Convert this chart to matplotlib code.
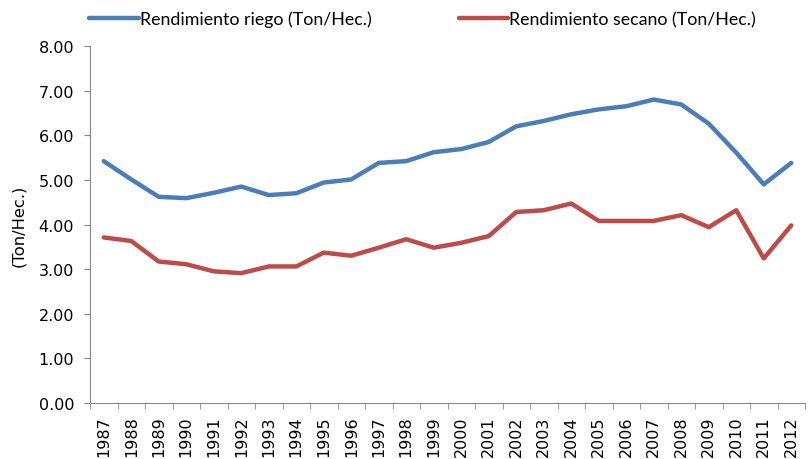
import matplotlib
matplotlib.use("Agg")
from matplotlib import pyplot as plt
from matplotlib.ticker import FixedLocator

years = [str(y) for y in range(1987, 2013)]
riego = [5.42, 5.01, 4.62, 4.59, 4.71, 4.85, 4.66, 4.70, 4.94, 5.01,
         5.38, 5.42, 5.62, 5.69, 5.85, 6.20, 6.32, 6.47, 6.58, 6.65,
         6.80, 6.69, 6.26, 5.61, 4.90, 5.38]
secano = [3.71, 3.63, 3.17, 3.11, 2.95, 2.91, 3.06, 3.06, 3.37, 3.30,
          3.48, 3.67, 3.48, 3.59, 3.74, 4.28, 4.32, 4.47, 4.08, 4.08,
          4.08, 4.21, 3.94, 4.32, 3.24, 3.98]
yticks = [0, 1, 2, 3, 4, 5, 6, 7, 8]

fig = plt.figure(figsize=(8.09, 4.6), dpi=100)
ax = fig.add_axes([90 / 809, 56 / 460, 715 / 809, 357 / 460])

x = list(range(len(years)))
ax.plot(x, riego, color="#4A7EBB", lw=3.2, solid_capstyle="round",
        label="Rendimiento riego (Ton/Hec.)")
ax.plot(x, secano, color="#BE4B48", lw=3.2, solid_capstyle="round",
        label="Rendimiento secano (Ton/Hec.)")

ax.set_xlim(-0.5, len(years) - 0.5)
ax.set_ylim(0, 8)
ax.set_yticks(yticks)
ax.set_yticklabels([f"{v:.2f}" for v in yticks], fontsize=11.5)
ax.set_xticks(x)
ax.set_xticklabels(years, rotation=90, fontsize=11.5)
ax.xaxis.set_minor_locator(FixedLocator([i - 0.5 for i in range(len(years) + 1)]))
ax.tick_params(axis="x", which="major", length=0, pad=9)
ax.tick_params(axis="x", which="minor", length=4.5, color="#868686")
ax.tick_params(axis="y", length=4.5, color="#868686", pad=7)
ax.set_ylabel("(Ton/Hec.)", fontsize=11.8, labelpad=9)

for side in ["top", "right"]:
    ax.spines[side].set_visible(False)
for side in ["left", "bottom"]:
    ax.spines[side].set_color("#868686")

leg = fig.legend(loc="center left", bbox_to_anchor=(89 / 809, 1 - 20 / 460),
                 ncol=2, frameon=False, handlelength=2.8, handletextpad=0.05,
                 columnspacing=4.9, borderaxespad=0, borderpad=0,
                 prop={"family": "Lato", "size": 12.8})

fig.savefig("out.png", dpi=100)
